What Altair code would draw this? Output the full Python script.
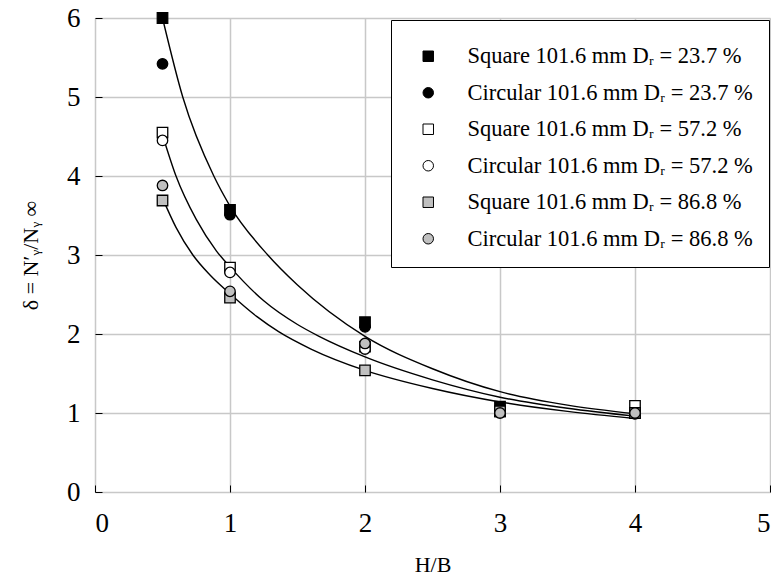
import altair as alt
import pandas as pd

# ---- data ----
hb = [0.5, 1, 2, 3, 4]
series_names = [
    "Square 101.6 mm Dᵣ = 23.7 %",
    "Circular 101.6 mm Dᵣ = 23.7 %",
    "Square 101.6 mm Dᵣ = 57.2 %",
    "Circular 101.6 mm Dᵣ = 57.2 %",
    "Square 101.6 mm Dᵣ = 86.8 %",
    "Circular 101.6 mm Dᵣ = 86.8 %",
]
sq_237 = [6.00, 3.57, 2.15, 1.08, 1.00]
ci_237 = [5.42, 3.51, 2.09, 1.03, 0.99]
sq_572 = [4.55, 2.84, 1.84, 1.02, 1.09]
ci_572 = [4.45, 2.78, 1.81, 1.01, 1.00]
sq_868 = [3.69, 2.46, 1.54, 1.02, 1.00]
ci_868 = [3.88, 2.54, 1.88, 1.00, 1.00]

shapes = ["square", "circle", "square", "circle", "square", "circle"]
fills = ["black", "black", "white", "white", "#c0c0c0", "#c0c0c0"]

# fitted curves
c237_x = [0.5, 0.65, 0.88, 1.0, 1.28, 1.5, 2.0, 2.5, 3.0, 3.5, 4.0]
c237_y = [6.0, 5.0, 4.0, 3.62, 3.0, 2.62, 1.97, 1.56, 1.27, 1.10, 0.99]
c572_x = [0.5, 0.6, 0.75, 0.9, 1.0, 1.25, 1.5, 1.66, 2.0, 2.5, 3.0, 3.5, 4.0]
c572_y = [4.52, 4.0, 3.45, 3.05, 2.85, 2.42, 2.12, 1.97, 1.71, 1.42, 1.20, 1.06, 0.96]
c868_x = [0.5, 0.6, 0.725, 0.85, 1.0, 1.2, 1.36, 1.6, 2.0, 2.5, 3.0, 3.5, 4.0]
c868_y = [3.72, 3.35, 3.0, 2.75, 2.51, 2.22, 2.03, 1.81, 1.54, 1.31, 1.14, 1.02, 0.93]

x_ticks = [0, 1, 2, 3, 4, 5]
y_ticks = [0, 1, 2, 3, 4, 5, 6]

# ---- tables ----
rows = []
for name, vals in zip(series_names, [sq_237, ci_237, sq_572, ci_572, sq_868, ci_868]):
    for x, y in zip(hb, vals):
        rows.append({"hb": x, "delta": y, "series": name})
pts = pd.DataFrame(rows)

crow = []
for cname, xs, ys in [("c237", c237_x, c237_y), ("c572", c572_x, c572_y), ("c868", c868_x, c868_y)]:
    for x, y in zip(xs, ys):
        crow.append({"hb": x, "delta": y, "curve": cname})
curves = pd.DataFrame(crow)

FONT = "Liberation Serif"
xscale = alt.Scale(domain=[0, 5], nice=False, zero=False)
yscale = alt.Scale(domain=[0, 6], nice=False, zero=False)

common = dict(domain=False, offset=-7, tickSize=7, tickColor="black", tickWidth=1,
              labelFontSize=27, titleFontSize=22, labelFont=FONT, titleFont=FONT,
              labelColor="black", titleColor="black", titleFontWeight="normal",
              grid=True, gridColor="#c8c8c8", gridWidth=1.5, format="d")
x_axis = alt.Axis(values=x_ticks, title="H/B", labelPadding=18, titlePadding=18, **common)
y_axis = alt.Axis(values=y_ticks, title="δ = N′ᵧ/Nᵧ ∞", labelPadding=15, titlePadding=24, **common)

legend = alt.Legend(title=" ", titleFontSize=1, titlePadding=8, orient="none",
                    legendX=296, legendY=2, padding=16,
                    strokeColor="black", fillColor="white", labelFont=FONT,
                    labelFontSize=22.5, labelColor="black", symbolSize=110,
                    symbolStrokeColor="black", symbolStrokeWidth=1,
                    rowPadding=13.5, labelOffset=28, symbolOffset=10, labelLimit=400)

lines = alt.Chart(curves).mark_line(color="black", strokeWidth=1.4, interpolate="monotone").encode(
    x=alt.X("hb:Q", scale=xscale, axis=x_axis),
    y=alt.Y("delta:Q", scale=yscale, axis=y_axis),
    detail="curve:N",
)

points = alt.Chart(pts).mark_point(filled=True, size=110, stroke="black", strokeWidth=1.3,
                                   opacity=1).encode(
    x=alt.X("hb:Q", scale=xscale),
    y=alt.Y("delta:Q", scale=yscale),
    shape=alt.Shape("series:N", scale=alt.Scale(domain=series_names, range=shapes), legend=legend),
    color=alt.Color("series:N", scale=alt.Scale(domain=series_names, range=fills), legend=legend),
)

chart = alt.layer(lines, points).properties(
    width=675, height=474,
    autosize=alt.AutoSizeParams(type="none"),
    padding={"left": 87, "top": 10, "right": 1, "bottom": 88},
).configure_view(stroke="#333333", strokeWidth=1.3).configure(font=FONT)

chart.save("out.html", embed_options={"renderer": "svg", "actions": False})
